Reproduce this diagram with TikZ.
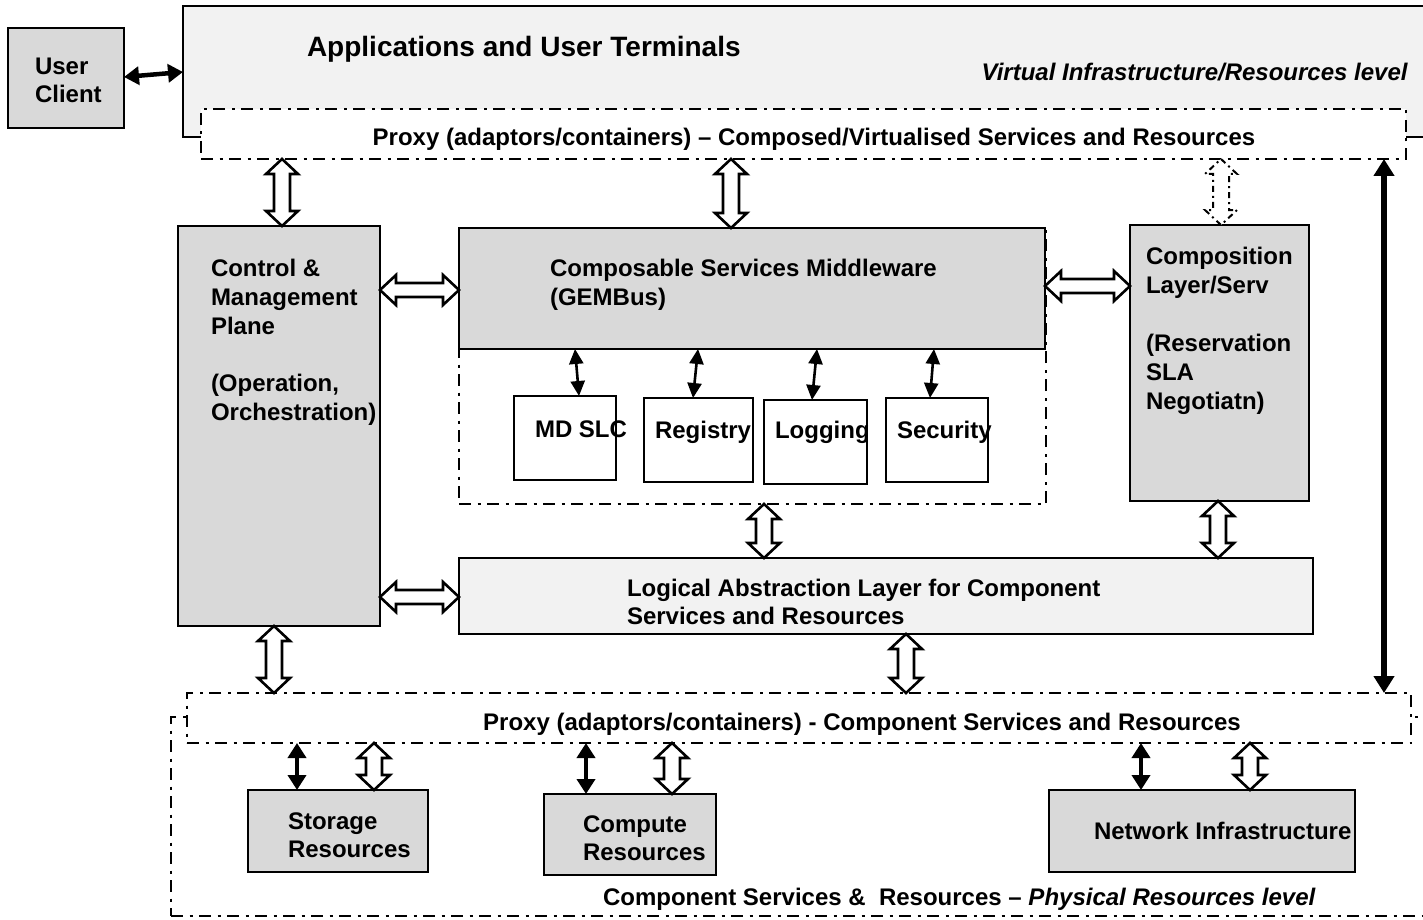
\documentclass[tikz,border=0pt]{standalone}
\usepackage{fontspec}
\setmainfont{Liberation Sans}
\usetikzlibrary{arrows.meta,calc}

\definecolor{boxgray}{HTML}{D9D9D9}
\definecolor{paneltint}{HTML}{F2F2F2}

\tikzset{
  every node/.style={font=\fontsize{24}{28}\selectfont\bfseries, inner sep=0pt, outer sep=0pt},
  layer/.style={draw, line width=2.6pt, rectangle, anchor=north west},
  greybox/.style={layer, fill=boxgray},
  panel/.style={layer, fill=paneltint},
  plainbox/.style={layer, fill=white},
  dashdot/.style={dash pattern=on 12pt off 6.5pt on 3pt off 6.5pt, line width=2.8pt},
  frame/.style={layer, dashdot},
  proxybox/.style={layer, dashdot, fill=white},
  txt/.style={anchor=base west},
  hollowarrow/.style={draw, fill=white, line width=2.6pt, line join=miter},
  dotarrow/.style={dash pattern=on 6pt off 4pt on 2pt off 4pt, line width=2pt},
  thinboth/.style={line width=2.6pt, {Triangle[length=15pt,width=14pt]}-{Triangle[length=15pt,width=14pt]}},
  thickboth/.style={line width=4.5pt, {Triangle[length=15pt,width=18pt]}-{Triangle[length=15pt,width=18pt]}},
  longboth/.style={line width=5.5pt, {Triangle[length=17pt,width=20pt]}-{Triangle[length=17pt,width=20pt]}},
}

% hollow vertical double arrow: [style]{x}{upper point}{lower point}
\newcommand\vdouble[4][]{%
  \draw[hollowarrow,#1] let \p1=#3, \p2=#4, \p3=(#2,0) in
    (\x3,\y1) -- (\x3+16pt,\y1-15pt) -- (\x3+8pt,\y1-15pt) -- (\x3+8pt,\y2+15pt)
    -- (\x3+16pt,\y2+15pt) -- (\x3,\y2) -- (\x3-16pt,\y2+15pt) -- (\x3-8pt,\y2+15pt)
    -- (\x3-8pt,\y1-15pt) -- (\x3-16pt,\y1-15pt) -- cycle;
}
% hollow horizontal double arrow: [style]{y}{left point}{right point}
\newcommand\hdouble[4][]{%
  \draw[hollowarrow,#1] let \p1=#3, \p2=#4, \p3=(0,#2) in
    (\x1,\y3) -- (\x1+16pt,\y3+15pt) -- (\x1+16pt,\y3+7pt) -- (\x2-16pt,\y3+7pt)
    -- (\x2-16pt,\y3+15pt) -- (\x2,\y3) -- (\x2-16pt,\y3-15pt) -- (\x2-16pt,\y3-7pt)
    -- (\x1+16pt,\y3-7pt) -- (\x1+16pt,\y3-15pt) -- cycle;
}

\begin{document}
\begin{tikzpicture}[x=1pt,y=-1pt]
\useasboundingbox (0,0) rectangle (1423,920);
\clip (0,0) rectangle (1423,920);

% ---- top: applications layer and upper proxy ----
\node[greybox, minimum width=116pt, minimum height=100pt] (user) at (8,28) {};
\node[txt] (userA) at (35,75) {User};
\node[txt] (userB) at (35,103) {Client};

\node[panel, minimum width=1267pt, minimum height=131pt] (apps) at (183,6) {};
\node[txt, font=\fontsize{28}{34}\selectfont\bfseries] (appsT) at (307,57) {Applications and User Terminals};
\node[anchor=base east] (virt) at (1408,81) {\textit{Virtual Infrastructure/Resources level}};

\node[proxybox, minimum width=1205pt, minimum height=50pt] (proxyT) at (201,109) {};
\node[anchor=base] (proxyTT) at (814,146) {Proxy (adaptors/containers) – Composed/Virtualised Services and Resources};

% ---- control plane ----
\node[greybox, minimum width=202pt, minimum height=400pt] (ctrl) at (178,226) {};
\node[txt] (ctrlA) at (211,276) {Control \&};
\node[txt] (ctrlB) at (211,305) {Management};
\node[txt] (ctrlC) at (211,334) {Plane};
\node[txt] (ctrlD) at (211,391) {(Operation,};
\node[txt] (ctrlE) at (211,420) {Orchestration)};

% ---- middleware and its services ----
\node[greybox, minimum width=586pt, minimum height=121pt] (mid) at (459,228) {};
\node[frame, minimum width=587pt, minimum height=276pt] (midframe) at (459,228) {};
\node[txt] (midA) at (550,276) {Composable Services Middleware};
\node[txt] (midB) at (550,305) {(GEMBus)};

\node[plainbox, minimum width=102pt, minimum height=84pt] (mdslc) at (514,396) {};
\node[plainbox, minimum width=109pt, minimum height=84pt] (registry) at (644,398) {};
\node[plainbox, minimum width=103pt, minimum height=84pt] (logging) at (764,400) {};
\node[plainbox, minimum width=102pt, minimum height=84pt] (security) at (886,398) {};
\node[txt] (mdslcT) at (535,437) {MD SLC};
\node[txt] (registryT) at (655,438) {Registry};
\node[txt] (loggingT) at (775,438) {Logging};
\node[txt] (securityT) at (897,438) {Security};

% ---- composition layer ----
\node[greybox, minimum width=179pt, minimum height=276pt] (comp) at (1130,225) {};
\node[txt] (compA) at (1146,264) {Composition};
\node[txt] (compB) at (1146,293) {Layer/Serv};
\node[txt] (compC) at (1146,351) {(Reservation};
\node[txt] (compD) at (1146,380) {SLA};
\node[txt] (compE) at (1146,409) {Negotiatn)};

% ---- logical abstraction layer ----
\node[panel, minimum width=854pt, minimum height=76pt] (lal) at (459,558) {};
\node[txt] (lalA) at (627,596) {Logical Abstraction Layer for Component};
\node[txt] (lalB) at (627,624) {Services and Resources};

% ---- physical level ----
\node[frame, minimum width=1289pt, minimum height=199pt] (phys) at (171,717) {};
\node[proxybox, minimum width=1224pt, minimum height=50pt] (proxyB) at (187,693) {};
\node[anchor=base] (proxyBT) at (862,730) {Proxy (adaptors/containers) - Component Services and Resources};

\node[greybox, minimum width=180pt, minimum height=82pt] (storage) at (248,790) {};
\node[txt] (storageA) at (288,829) {Storage};
\node[txt] (storageB) at (288,857) {Resources};
\node[greybox, minimum width=172pt, minimum height=81pt] (compute) at (544,794) {};
\node[txt] (computeA) at (583,832) {Compute};
\node[txt] (computeB) at (583,860) {Resources};
\node[greybox, minimum width=306pt, minimum height=82pt] (network) at (1049,790) {};
\node[txt] (networkT) at (1094,839) {Network Infrastructure};

\node[txt] (physT) at (603,905) {Component Services \&\ \ Resources – \textit{Physical Resources level}};

% ---- connectors ----
\draw[thickboth] ($(user.north east)+(0,49)$) -- ($(apps.north west)+(0,66)$);

\vdouble{282}{(proxyT.south)}{(ctrl.north)}
\vdouble{731}{(proxyT.south)}{(mid.north)}
\vdouble[dotarrow]{1221}{(proxyT.south)}{(comp.north)}
\hdouble{290}{(ctrl.east)}{(mid.west)}
\hdouble{286}{(mid.east)}{(comp.west)}
\vdouble{764}{(midframe.south)}{(lal.north)}
\vdouble{1218}{(comp.south)}{(lal.north)}
\hdouble{597}{(ctrl.east)}{(lal.west)}
\vdouble{274}{(ctrl.south)}{(proxyB.north)}
\vdouble{906}{(lal.south)}{(proxyB.north)}
\vdouble{374}{(proxyB.south)}{(storage.north)}
\vdouble{672}{(proxyB.south)}{(compute.north)}
\vdouble{1250}{(proxyB.south)}{(network.north)}

\draw[thinboth] ($(mid.south west)+(116,0)$) -- ($(mdslc.north west)+(65,0)$);
\draw[thinboth] ($(mid.south west)+(239,0)$) -- ($(registry.north west)+(49,0)$);
\draw[thinboth] ($(mid.south west)+(358,0)$) -- ($(logging.north west)+(48,0)$);
\draw[thinboth] ($(mid.south west)+(475,0)$) -- ($(security.north west)+(44,0)$);

\coordinate (longx) at (1384,0);
\draw[longboth] (proxyT.south -| longx) -- (proxyB.north -| longx);

\coordinate (stx) at (297,0);
\coordinate (cpx) at (586,0);
\coordinate (nwx) at (1141,0);
\draw[thickboth] (proxyB.south -| stx) -- (storage.north -| stx);
\draw[thickboth] (proxyB.south -| cpx) -- (compute.north -| cpx);
\draw[thickboth] (proxyB.south -| nwx) -- (network.north -| nwx);
\end{tikzpicture}
\end{document}
